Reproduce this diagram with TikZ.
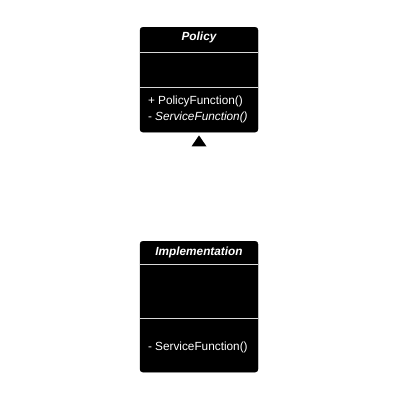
\documentclass[tikz,border=0pt]{standalone}
\usepackage{fontspec}
\setmainfont{Liberation Sans}
\usetikzlibrary{positioning}
\tikzset{
  classbox/.style={draw=black, fill=black, rounded corners=3pt, minimum width=118pt, inner sep=0pt, anchor=north},
  sepline/.style={draw=white!85!black, line width=0.8pt},
  classname/.style={text=white, inner sep=0pt, font=\fontsize{11.8}{14}\selectfont\bfseries\itshape},
  member/.style={text=white, inner sep=0pt, anchor=west, font=\fontsize{11.8}{14}\selectfont},
}

\begin{document}
\begin{tikzpicture}[x=1pt,y=-1pt]
  \useasboundingbox (0,0) rectangle (400,400);
  % Policy class
  \node[classbox, minimum height=105pt] (policy) at (199,27) {};
  \node[classname, below=10pt of policy.north, anchor=center] (policyname) {Policy};
  \draw[sepline] ([yshift=-25pt]policy.north west) -- ([yshift=-25pt]policy.north east);
  \draw[sepline] ([yshift=-60pt]policy.north west) -- ([yshift=-60pt]policy.north east);
  \node[member] (policyfn) at ([xshift=8pt,yshift=-74pt]policy.north west) {+ PolicyFunction()};
  \node[member] (servicefn) at ([xshift=8pt,yshift=-90pt]policy.north west) {- \textit{ServiceFunction()}};
  % inheritance tip
  \coordinate (tip) at ([yshift=-3pt]policy.south);
  \fill[black] (tip) -- ([xshift=7.5pt,yshift=-11pt]tip) -- ([xshift=-7.5pt,yshift=-11pt]tip) -- cycle;
  % Implementation class
  \node[classbox, minimum height=131pt] (impl) at (199,241) {};
  \node[classname, below=11pt of impl.north, anchor=center] (implname) {Implementation};
  \draw[sepline] ([yshift=-23pt]impl.north west) -- ([yshift=-23pt]impl.north east);
  \draw[sepline] ([yshift=-77pt]impl.north west) -- ([yshift=-77pt]impl.north east);
  \node[member] (implfn) at ([xshift=8pt,yshift=-106pt]impl.north west) {- ServiceFunction()};
\end{tikzpicture}
\end{document}
